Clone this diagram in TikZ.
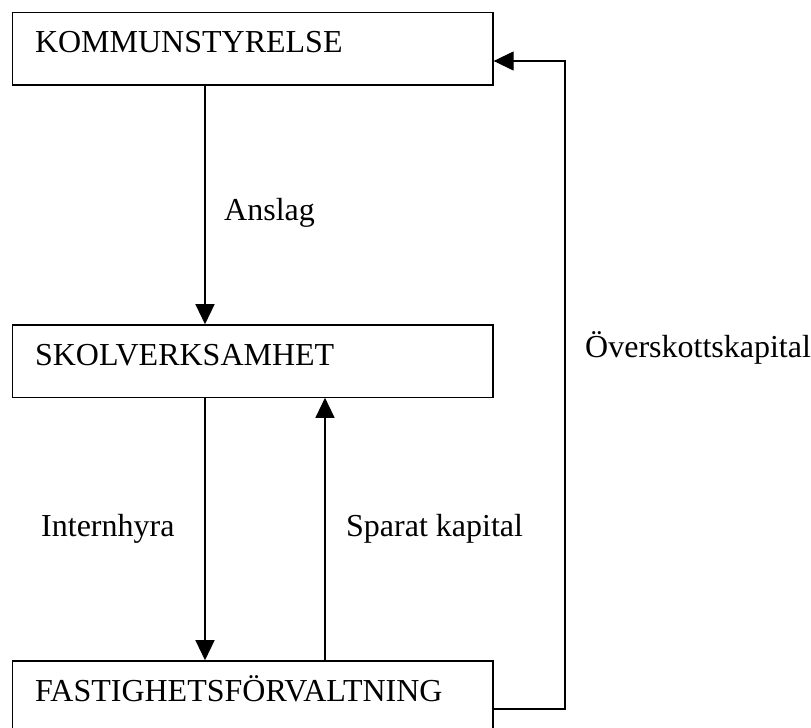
\documentclass[tikz,border=0pt]{standalone}
\usepackage{fontspec}
\setmainfont{Liberation Serif}
\usetikzlibrary{arrows.meta}
\begin{document}
\begin{tikzpicture}[x=1pt,y=-1pt,
  box/.style={draw,line width=1.3pt,rectangle,minimum width=480.3pt,minimum height=72.3pt,
    inner ysep=0pt,inner xsep=22.3pt,text width=435.7pt,align=left,
    text height=40pt,text depth=32pt,font=\fontsize{32}{38}\selectfont},
  lbl/.style={anchor=base west,inner sep=0pt,font=\fontsize{32}{38}\selectfont},
  arr/.style={line width=1.3pt,-{Triangle[length=20pt,width=19pt]}},
  ln/.style={line width=1.3pt}]
\useasboundingbox (0,0) rectangle (811,728);
\clip (0,0) rectangle (811,728);
\node[box] (k) at (252.85,48.85) {KOMMUNSTYRELSE};
\node[box] (s) at (252.85,361) {SKOLVERKSAMHET};
\node[box] (f) at (252.85,697) {FASTIGHETSFÖRVALTNING};
\coordinate (xa) at (205,0);
\coordinate (xb) at (325,0);
\coordinate (xc) at (565,0);
\coordinate (ya) at (0,709);
\coordinate (yk) at (0,61);
\draw[arr] (k.south -| xa) -- (s.north -| xa);
\draw[arr] (s.south -| xa) -- (f.north -| xa);
\draw[arr] (f.north -| xb) -- (s.south -| xb);
\draw[arr] (f.east |- ya) -- (xc |- ya) -- (xc |- yk) -- (k.east |- yk);
\node[lbl] (la) at (224,220) {Anslag};
\node[lbl] (li) at (41,536) {Internhyra};
\node[lbl] (lsk) at (346,536) {Sparat kapital};
\node[lbl] (lo) at (585,357) {Överskottskapital};
\end{tikzpicture}
\end{document}
